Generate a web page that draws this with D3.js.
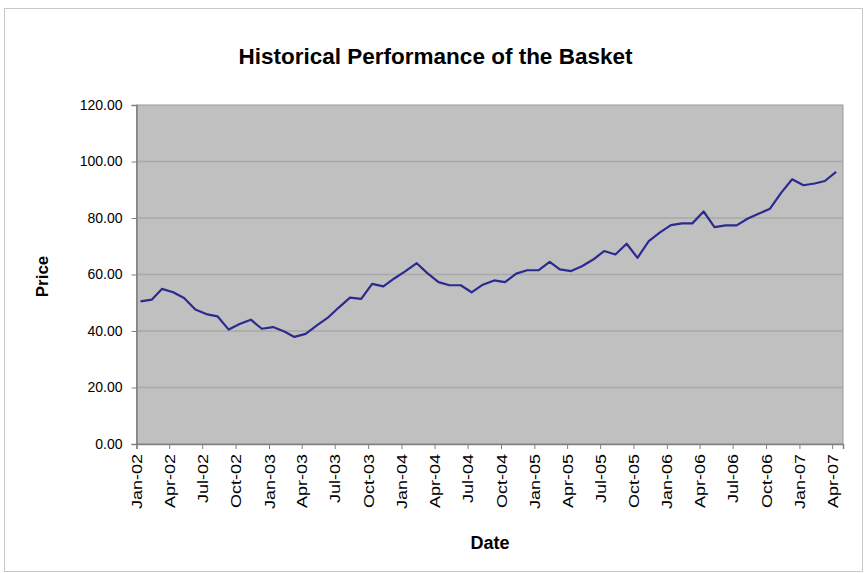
<!DOCTYPE html>
<html>
<head>
<meta charset="utf-8">
<script src="https://cdn.jsdelivr.net/npm/d3@7"></script>
<style>
  body { margin: 0; background: #fff; }
  svg { display: block; font-family: "Liberation Sans", Arial, sans-serif; }
</style>
</head>
<body>
<svg id="chart" width="864" height="573"></svg>
<script>
// monthly basket level, Jan-02 .. Apr-07
const startMonth = '2002-01';
const prices = [
  50.5, 51.1, 54.9, 53.7, 51.7, 47.6, 46.0, 45.2, 40.5, 42.5, 44.0, 40.8,
  41.4, 39.8, 37.9, 39.0, 41.9, 44.7, 48.3, 51.8, 51.4, 56.7, 55.8, 58.6,
  61.2, 64.0, 60.5, 57.3, 56.2, 56.2, 53.7, 56.4, 57.9, 57.3, 60.3, 61.5,
  61.5, 64.5, 61.8, 61.2, 62.9, 65.3, 68.3, 67.1, 70.9, 65.9, 71.8, 74.8,
  77.5, 78.1, 78.1, 82.3, 76.8, 77.4, 77.4, 79.8, 81.6, 83.3, 89.0, 93.7,
  91.6, 92.2, 93.1, 96.3
];
const yTicks = [0, 20, 40, 60, 80, 100, 120];
const xTickStart = '2002-01-01';
const xTickEnd = '2007-04-01';
const axisEnd = '2007-05-01';

const width = 864;
const height = 573;
const margin = {top: 105, right: 21, bottom: 129, left: 136.5};
const innerWidth = width - margin.left - margin.right;
const innerHeight = height - margin.top - margin.bottom;

const parseDay = d3.timeParse('%Y-%m-%d');
const first = d3.timeParse('%Y-%m')(startMonth);
const data = prices.map((p, i) => ({
  date: d3.timeDay.offset(d3.timeMonth.offset(first, i), 11),
  price: p
}));

const svg = d3.select('#chart');

// chart area border
svg.append('rect')
  .attr('x', 4.5).attr('y', 8.5)
  .attr('width', width - 6).attr('height', height - 10)
  .attr('fill', 'none')
  .attr('stroke', '#c8c8c8');

const g = svg.append('g')
  .attr('transform', `translate(${margin.left},${margin.top})`);

const xScale = d3.scaleTime()
  .domain([parseDay(xTickStart), parseDay(axisEnd)])
  .range([0, innerWidth]);

const yScale = d3.scaleLinear()
  .domain([0, 120])
  .range([innerHeight, 0]);

g.append('rect')
  .attr('width', innerWidth)
  .attr('height', innerHeight)
  .attr('fill', '#c0c0c0')
  .attr('stroke', '#9a9a9a');

// gridlines
g.selectAll('.grid').data(yTicks.filter(d => d > 0 && d < 120))
  .enter().append('line')
  .attr('class', 'grid')
  .attr('x1', 0).attr('x2', innerWidth)
  .attr('y1', d => yScale(d)).attr('y2', d => yScale(d))
  .attr('stroke', '#a9a9a9')
  .attr('stroke-width', 1.5);

const yAxis = d3.axisLeft(yScale)
  .tickValues(yTicks)
  .tickFormat(d3.format('.2f'))
  .tickSize(5)
  .tickPadding(9);

const yAxisG = g.append('g').call(yAxis);
yAxisG.attr('font-family', null);
yAxisG.select('.domain').attr('stroke', '#808080').attr('stroke-width', 1.5);
yAxisG.selectAll('.tick line').attr('stroke', '#808080');
yAxisG.selectAll('text')
  .attr('font-size', 14)
  .attr('fill', '#000');

const xTicks = d3.timeMonth.every(3).range(parseDay(xTickStart), d3.timeDay.offset(parseDay(xTickEnd), 1));

const xAxis = d3.axisBottom(xScale)
  .tickValues(xTicks)
  .tickFormat(d3.timeFormat('%b-%y'))
  .tickSize(5)
  .tickPadding(6);

const xAxisG = g.append('g')
  .attr('transform', `translate(0,${innerHeight})`)
  .call(xAxis);
xAxisG.attr('font-family', null);
xAxisG.select('.domain').attr('stroke', '#808080').attr('stroke-width', 1.5);
xAxisG.selectAll('.tick line').attr('stroke', '#808080');
// labels read bottom-to-top, a bit narrow like the source
xAxisG.selectAll('text')
  .attr('font-size', 18)
  .attr('fill', '#000')
  .attr('text-anchor', 'end')
  .attr('dy', '0.35em')
  .attr('transform', 'translate(0,10) rotate(-90) scale(1,0.8)')
  .attr('x', 0).attr('y', 0);

const line = d3.line()
  .x(d => xScale(d.date))
  .y(d => yScale(d.price));

g.append('path')
  .datum(data)
  .attr('d', line)
  .attr('fill', 'none')
  .attr('stroke', '#2a2a90')
  .attr('stroke-width', 2.2)
  .attr('stroke-linejoin', 'round');

svg.append('text')
  .attr('x', 435.5).attr('y', 64)
  .attr('text-anchor', 'middle')
  .attr('font-size', 22.5)
  .attr('font-weight', 'bold')
  .text('Historical Performance of the Basket');

svg.append('text')
  .attr('transform', `translate(48,${margin.top + innerHeight / 2 + 2}) rotate(-90)`)
  .attr('text-anchor', 'middle')
  .attr('font-size', 17)
  .attr('font-weight', 'bold')
  .text('Price');

svg.append('text')
  .attr('x', 490).attr('y', 549)
  .attr('text-anchor', 'middle')
  .attr('font-size', 18)
  .attr('font-weight', 'bold')
  .text('Date');
</script>
</body>
</html>
